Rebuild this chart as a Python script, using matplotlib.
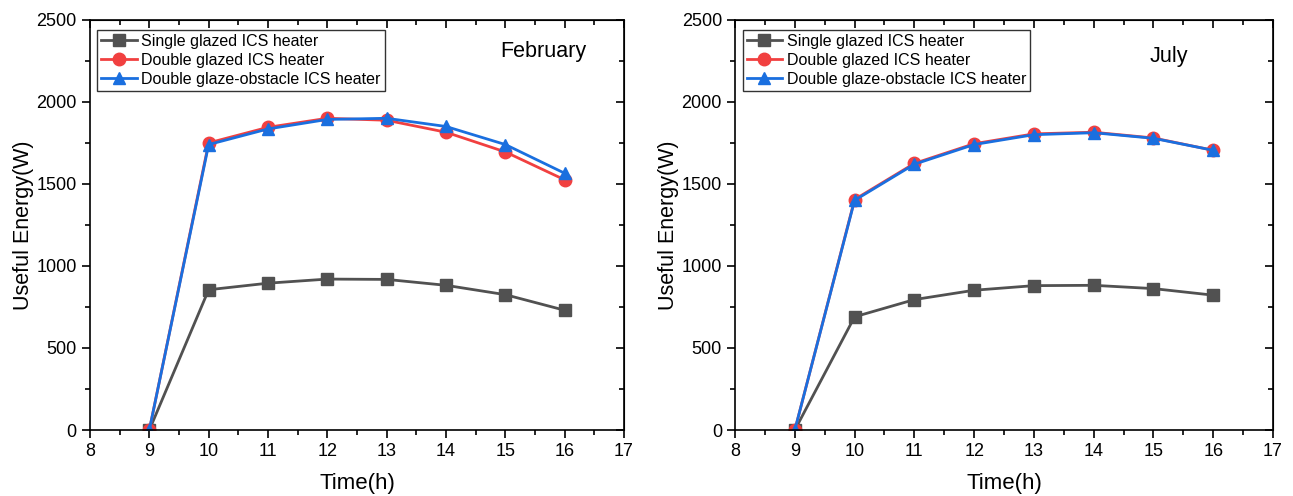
import matplotlib
matplotlib.use("Agg")
import matplotlib.pyplot as plt
from matplotlib.ticker import MultipleLocator

plt.rcParams['font.family'] = ['Liberation Sans', 'DejaVu Sans']

hours = [9, 10, 11, 12, 13, 14, 15, 16]
series_labels = ["Single glazed ICS heater", "Double glazed ICS heater",
                 "Double glaze-obstacle ICS heater"]

feb_single = [0, 855, 895, 920, 918, 882, 825, 730]
feb_double = [0, 1750, 1845, 1900, 1888, 1815, 1695, 1525]
feb_obstacle = [0, 1740, 1835, 1893, 1900, 1850, 1740, 1565]

jul_single = [0, 690, 795, 852, 880, 882, 862, 822]
jul_double = [0, 1405, 1625, 1745, 1805, 1815, 1780, 1705]
jul_obstacle = [0, 1400, 1620, 1740, 1800, 1812, 1778, 1705]

colors = ["#515151", "#F14040", "#1A6FDF"]
markers = ["s", "o", "^"]
msizes = [8, 9, 9]

fig = plt.figure(figsize=(12.93, 4.96), dpi=100)
ax1 = fig.add_axes([0.0696, 0.133, 0.413, 0.827])
ax2 = fig.add_axes([0.5685, 0.133, 0.416, 0.827])


def draw(ax, data):
    for vals, c, m, ms, lab in zip(data, colors, markers, msizes, series_labels):
        ax.plot(hours, vals, color=c, marker=m, markersize=ms, linewidth=2,
                label=lab)
    ax.set_xlim(8, 17)
    ax.set_ylim(0, 2500)
    ax.xaxis.set_major_locator(MultipleLocator(1))
    ax.xaxis.set_minor_locator(MultipleLocator(0.5))
    ax.yaxis.set_major_locator(MultipleLocator(500))
    ax.yaxis.set_minor_locator(MultipleLocator(250))
    ax.tick_params(which='major', direction='out', length=6, width=1.2,
                   labelsize=13, top=False, right=False)
    ax.tick_params(which='minor', direction='out', length=3.5, width=1.2,
                   top=False, right=False)
    for s in ax.spines.values():
        s.set_linewidth(1.2)
    # inward ticks on the top and right frame edges
    top = ax.secondary_xaxis('top')
    top.xaxis.set_major_locator(MultipleLocator(1))
    top.xaxis.set_minor_locator(MultipleLocator(0.5))
    top.tick_params(which='major', direction='in', length=6, width=1.2,
                    labeltop=False)
    top.tick_params(which='minor', direction='in', length=3.5, width=1.2)
    right = ax.secondary_yaxis('right')
    right.yaxis.set_major_locator(MultipleLocator(500))
    right.yaxis.set_minor_locator(MultipleLocator(250))
    right.tick_params(which='major', direction='in', length=6, width=1.2,
                      labelright=False)
    right.tick_params(which='minor', direction='in', length=3.5, width=1.2)
    ax.set_xlabel("Time(h)", fontsize=16, labelpad=9)
    ax.set_ylabel("Useful Energy(W)", fontsize=15.5, labelpad=2)
    leg = ax.legend(loc='upper left', bbox_to_anchor=(0.014, 0.975), fontsize=11.5,
                    frameon=True, fancybox=False, edgecolor='black',
                    handlelength=2.2, handletextpad=0.3, borderpad=0.25,
                    labelspacing=0.25, borderaxespad=0.0)
    leg.get_frame().set_linewidth(1.0)
    return ax


draw(ax1, [feb_single, feb_double, feb_obstacle])
ax1.text(0.848, 0.922, "February", transform=ax1.transAxes, fontsize=15.5,
         ha='center', va='center')
draw(ax2, [jul_single, jul_double, jul_obstacle])
ax2.text(0.807, 0.91, "July", transform=ax2.transAxes, fontsize=15.5,
         ha='center', va='center')

fig.savefig("out.png", dpi=100)
